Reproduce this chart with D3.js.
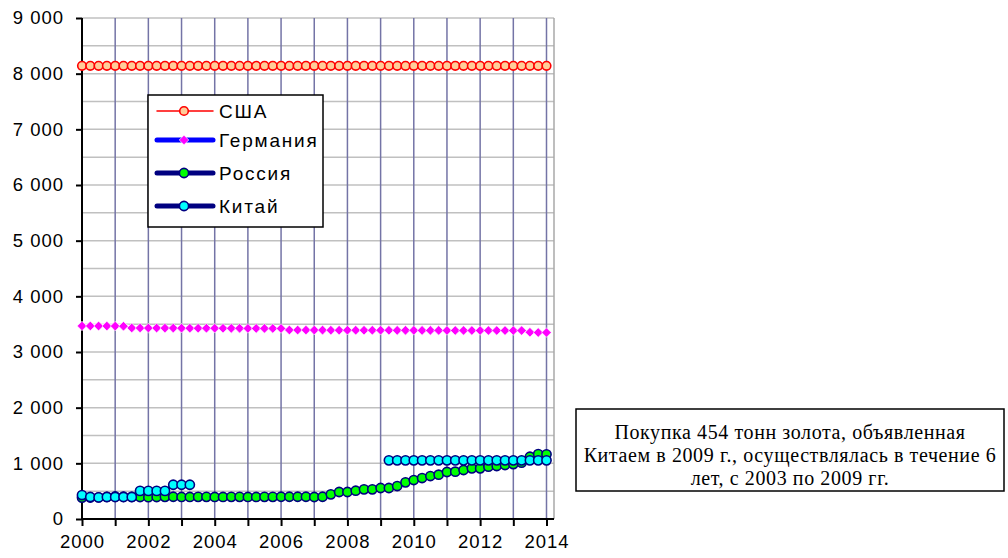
<!DOCTYPE html>
<html><head><meta charset="utf-8">
<script src="https://cdn.jsdelivr.net/npm/d3@7"></script>
<style>
html,body{margin:0;padding:0;background:#fff;}
svg{display:block;}
.ax text{font-family:"Liberation Sans",Arial,sans-serif;font-size:18.5px;letter-spacing:1px;fill:#000;}
</style></head>
<body>
<svg id="c" width="1008" height="558"></svg>
<script>
// quarterly periods 2000 Q1 .. 2014 Q1
const periods = d3.range(57).map(i => 2000 + i / 4);
const seriesNames = ["США", "Германия", "Россия", "Китай"];
const usa = [8140,8140,8140,8140,8140,8140,8140,8140,8140,8140,8140,8140,8140,8140,8140,8140,8140,8140,8140,8140,8140,8140,8140,8140,8140,8140,8140,8140,8140,8140,8140,8140,8140,8140,8140,8140,8140,8140,8140,8140,8140,8140,8140,8140,8140,8140,8140,8140,8140,8140,8140,8140,8140,8140,8140,8140,8140];
const germany = [3468,3468,3467,3466,3465,3463,3432,3431,3430,3430,3429,3429,3428,3428,3427,3427,3426,3426,3425,3425,3424,3424,3423,3423,3422,3395,3394,3394,3393,3393,3392,3392,3391,3391,3391,3390,3390,3390,3389,3389,3389,3388,3388,3388,3387,3387,3387,3386,3386,3386,3386,3385,3385,3385,3355,3350,3350];
const russia = [384,386,390,398,405,400,398,395,392,395,398,400,396,396,398,398,396,396,398,398,396,396,398,398,400,400,400,400,395,400,443,485,485,508,533,533,557,557,592,658,700,736,772,796,844,850,880,910,910,940,952,970,987,1011,1119,1167,1161];
const china = [430,395,388,395,395,395,395,505,505,505,505,615,615,615,null,null,null,null,null,null,null,null,null,null,null,null,null,null,null,null,null,null,null,null,null,null,null,1054,1054,1054,1054,1054,1054,1054,1054,1054,1054,1054,1054,1054,1054,1054,1054,1054,1054,1054,1054];
const yTicks = [0,1000,2000,3000,4000,5000,6000,7000,8000,9000];
const yTickLabels = ["0","1 000","2 000","3 000","4 000","5 000","6 000","7 000","8 000","9 000"];
const xLabelYears = [2000,2002,2004,2006,2008,2010,2012,2014];
const noteLines = ["Покупка 454 тонн золота, объявленная","Китаем в 2009 г., осуществлялась в течение 6","лет, с 2003 по 2009 гг."];

const svg = d3.select("#c");
const L = 82, R = 554, T = 18, B = 519;
const x = d3.scaleLinear().domain([2000, 2014]).range([L, 546.5]);
const y = d3.scaleLinear().domain([0, 9000]).range([B, T]);

// horizontal grid every 500
svg.append("g").selectAll("line").data(d3.range(500, 9001, 500)).join("line")
  .attr("x1", L).attr("x2", R).attr("y1", d => y(d)).attr("y2", d => y(d))
  .attr("stroke", "#c0c0c0").attr("stroke-width", 1.5);
// right border
svg.append("line").attr("x1", R).attr("x2", R).attr("y1", T).attr("y2", B)
  .attr("stroke", "#a8a8a8").attr("stroke-width", 1.5);
// vertical grid every year
svg.append("g").selectAll("line").data(d3.range(2001, 2015)).join("line")
  .attr("x1", d => x(d)).attr("x2", d => x(d)).attr("y1", T).attr("y2", B)
  .attr("stroke", "#7474a6").attr("stroke-width", 1.5);

// axes
const yAxis = d3.axisLeft(y).tickValues(yTicks).tickFormat((d, i) => yTickLabels[i]).tickSize(6).tickPadding(12);
const gy = svg.append("g").attr("class", "ax").attr("transform", `translate(${L},0)`).call(yAxis);
gy.select(".domain").remove();
gy.selectAll(".tick line").attr("stroke", "#000").attr("stroke-width", 2);
svg.append("line").attr("x1", L).attr("x2", L).attr("y1", T).attr("y2", B).attr("stroke", "#000").attr("stroke-width", 2);

const xAxis = d3.axisBottom(x).tickValues(d3.range(2000, 2015)).tickFormat(d => xLabelYears.includes(d) ? String(d) : "").tickSize(7).tickPadding(8);
const gx = svg.append("g").attr("class", "ax").attr("transform", `translate(0,${B})`).call(xAxis);
gx.select(".domain").remove();
gx.selectAll(".tick line").attr("stroke", "#000").attr("stroke-width", 2);
gx.selectAll(".tick text").attr("dy", "0.75em");
svg.append("line").attr("x1", L).attr("x2", R).attr("y1", B).attr("y2", B).attr("stroke", "#000").attr("stroke-width", 2);

const pts = arr => arr.map((v, i) => ({ t: periods[i], v })).filter(d => d.v != null);
const line = d3.line().defined(d => d.v != null).x(d => x(d.t)).y(d => y(d.v));
const full = arr => arr.map((v, i) => ({ t: periods[i], v }));

// USA
svg.append("path").attr("d", line(full(usa))).attr("fill", "none").attr("stroke", "#ff0000").attr("stroke-width", 1.5);
svg.append("g").selectAll("circle").data(pts(usa)).join("circle")
  .attr("cx", d => x(d.t)).attr("cy", d => y(d.v)).attr("r", 4.3)
  .attr("fill", "#ffcc99").attr("stroke", "#ff0000").attr("stroke-width", 1.6);

// Germany
svg.append("path").attr("d", line(full(germany))).attr("fill", "none").attr("stroke", "#ffffff").attr("stroke-width", 5);
const diamond = d3.symbol().type(d3.symbolSquare).size(46);
svg.append("g").selectAll("path").data(pts(germany)).join("path")
  .attr("transform", d => `translate(${x(d.t)},${y(d.v)}) rotate(45)`).attr("d", diamond)
  .attr("fill", "#ff00ff").attr("stroke", "#ffffff").attr("stroke-width", 0.6);

// Russia
svg.append("path").attr("d", line(full(russia))).attr("fill", "none").attr("stroke", "#000080").attr("stroke-width", 3);
svg.append("g").selectAll("circle").data(pts(russia)).join("circle")
  .attr("cx", d => x(d.t)).attr("cy", d => y(d.v)).attr("r", 4.6)
  .attr("fill", "#00ff00").attr("stroke", "#000080").attr("stroke-width", 1.6);

// China
svg.append("path").attr("d", line(full(china))).attr("fill", "none").attr("stroke", "#000080").attr("stroke-width", 3);
svg.append("g").selectAll("circle").data(pts(china)).join("circle")
  .attr("cx", d => x(d.t)).attr("cy", d => y(d.v)).attr("r", 4.6)
  .attr("fill", "#00ffff").attr("stroke", "#000080").attr("stroke-width", 1.6);

// Legend
const lg = svg.append("g");
lg.append("rect").attr("x", 148).attr("y", 95).attr("width", 175).attr("height", 132)
  .attr("fill", "#fff").attr("stroke", "#000").attr("stroke-width", 1.5);
const legendY = [111, 140, 173, 206];
const legendStyle = [
  { line: "#ff0000", lw: 1.5 },
  { line: "#0000ff", lw: 5 },
  { line: "#000080", lw: 5 },
  { line: "#000080", lw: 5 }
];
seriesNames.forEach((name, i) => {
  const g = lg.append("g").attr("transform", `translate(0,${legendY[i]})`);
  g.append("line").attr("x1", 157).attr("x2", 213).attr("y1", 0).attr("y2", 0)
    .attr("stroke", legendStyle[i].line).attr("stroke-width", legendStyle[i].lw).attr("stroke-linecap", "round");
  if (i === 0) g.append("circle").attr("cx", 184).attr("cy", 0).attr("r", 4.3).attr("fill", "#ffcc99").attr("stroke", "#ff0000").attr("stroke-width", 1.6);
  if (i === 1) g.append("path").attr("transform", "translate(184,0) rotate(45)").attr("d", diamond).attr("fill", "#ff00ff").attr("stroke", "#fff").attr("stroke-width", 0.6);
  if (i === 2) g.append("circle").attr("cx", 184).attr("cy", 0).attr("r", 4.6).attr("fill", "#00ff00").attr("stroke", "#000080").attr("stroke-width", 1.6);
  if (i === 3) g.append("circle").attr("cx", 184).attr("cy", 0).attr("r", 4.6).attr("fill", "#00ffff").attr("stroke", "#000080").attr("stroke-width", 1.6);
  g.append("text").attr("x", 219).attr("y", 0).attr("dy", "0.35em")
    .attr("font-family", "'Liberation Sans', Arial, sans-serif").attr("font-size", "19px").attr("letter-spacing", "1.8px")
    .text(name);
});

// Note box
const nb = svg.append("g");
nb.append("rect").attr("x", 576).attr("y", 409).attr("width", 428).attr("height", 82)
  .attr("fill", "#fff").attr("stroke", "#000").attr("stroke-width", 1.5);
noteLines.forEach((t, i) => {
  nb.append("text").attr("x", 790).attr("y", 438.5 + i * 23).attr("text-anchor", "middle")
    .attr("font-family", "'Liberation Serif','Times New Roman',serif").attr("font-size", "20px").attr("letter-spacing", "0.6px")
    .text(t);
});
</script>
</body></html>
